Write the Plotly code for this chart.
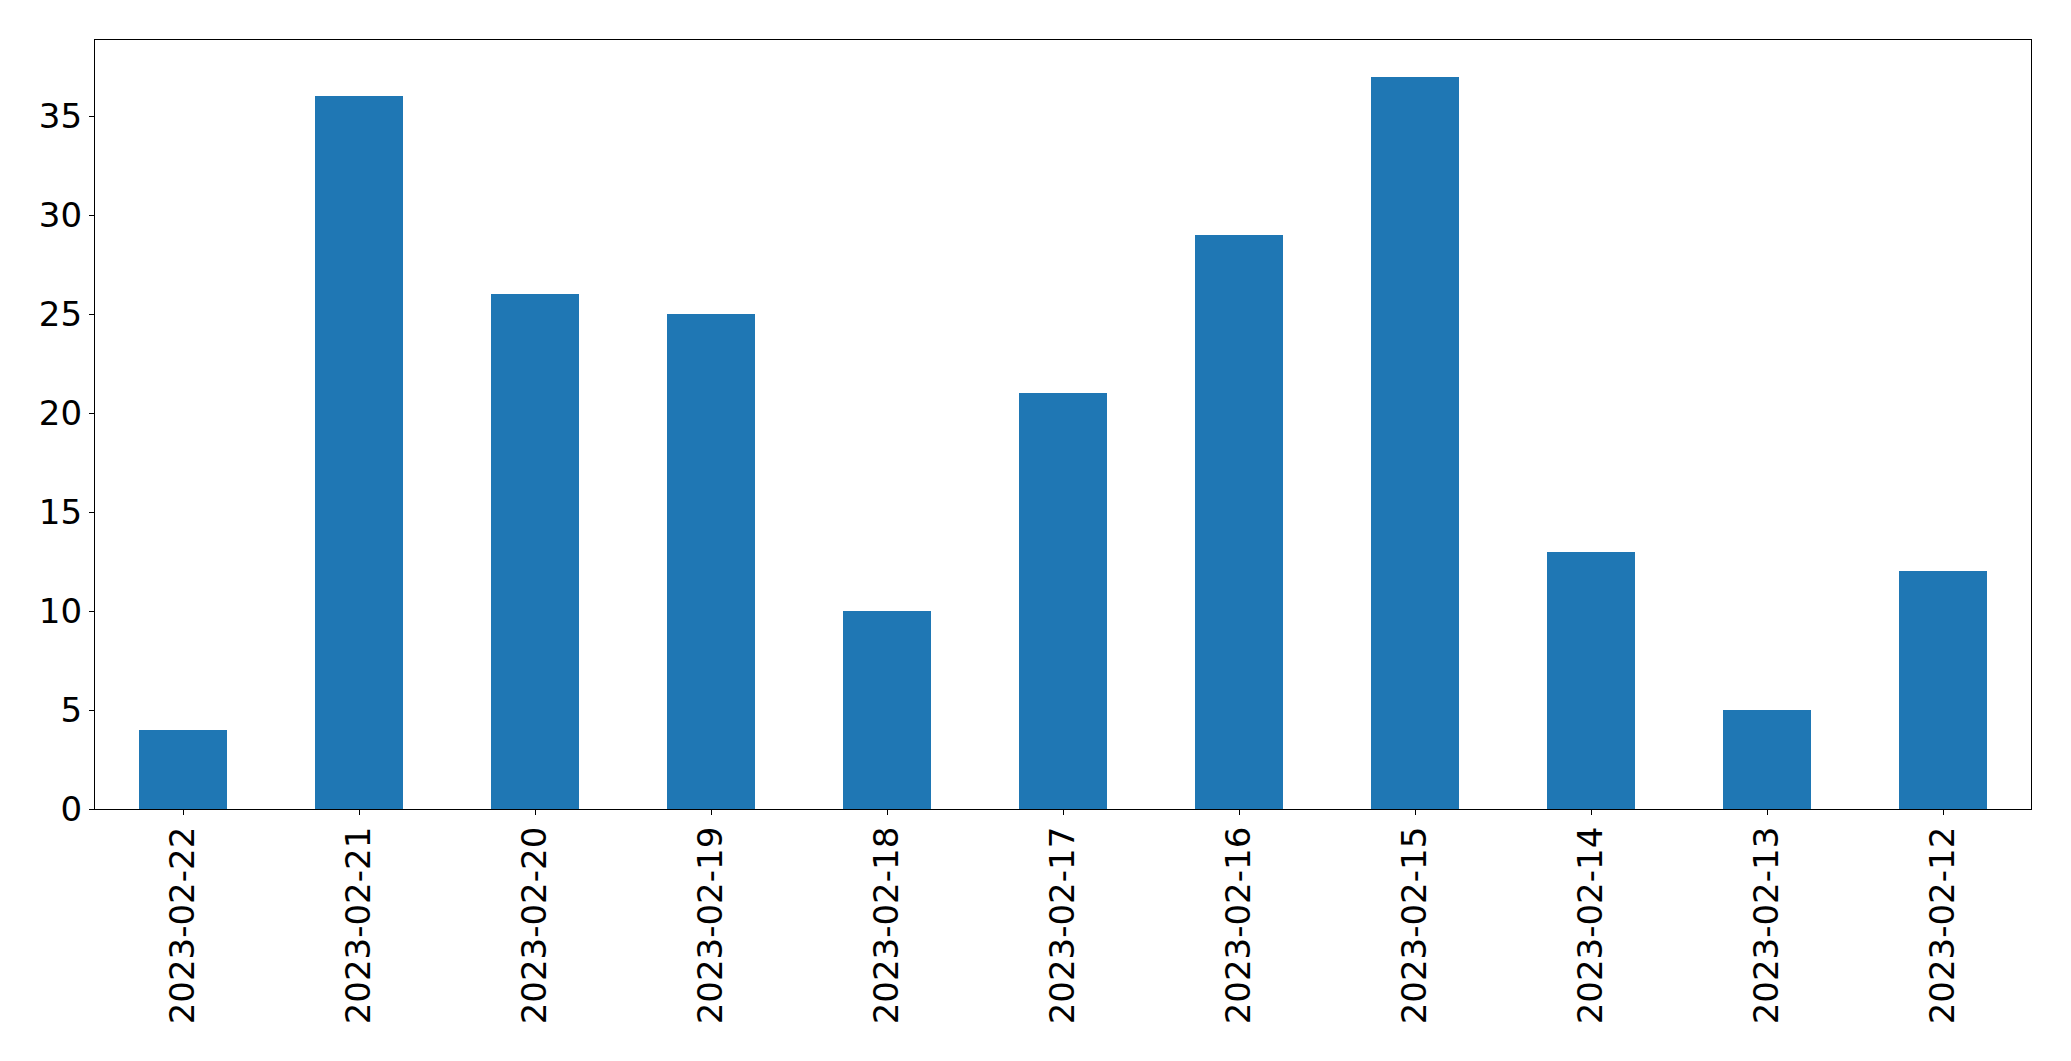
import plotly.graph_objects as go

dates = ["2023-02-22", "2023-02-21", "2023-02-20", "2023-02-19", "2023-02-18",
         "2023-02-17", "2023-02-16", "2023-02-15", "2023-02-14", "2023-02-13", "2023-02-12"]
counts = [4, 36, 26, 25, 10, 21, 29, 37, 13, 5, 12]
y_ticks = [0, 5, 10, 15, 20, 25, 30, 35]

fig = go.Figure(go.Bar(x=dates, y=counts, width=0.5, marker=dict(color="#1f77b4", line=dict(width=0))))

fig.update_layout(
    width=2071, height=1061,
    margin=dict(l=94.5, r=39.5, t=39.5, b=252, autoexpand=False),
    paper_bgcolor="white", plot_bgcolor="white",
    font=dict(family="DejaVu Sans", size=34, color="black"),
    showlegend=False,
    bargap=0,
)
fig.update_xaxes(
    type="category", range=[-0.5, len(dates) - 0.5],
    tickangle=-90, ticks="outside", ticklen=5, tickwidth=1.3, tickcolor="black",
    showline=True, linecolor="black", linewidth=1.3, mirror=True, showgrid=False,
    zeroline=False, ticklabelstandoff=-2,
)
fig.update_yaxes(
    range=[0, 38.85], tickvals=y_ticks, ticks="outside", ticklen=5, tickwidth=1.3,
    tickcolor="black", showline=True, linecolor="black", linewidth=1.3, mirror=True,
    showgrid=False, zeroline=False,
)

fig.write_html("out.html")
